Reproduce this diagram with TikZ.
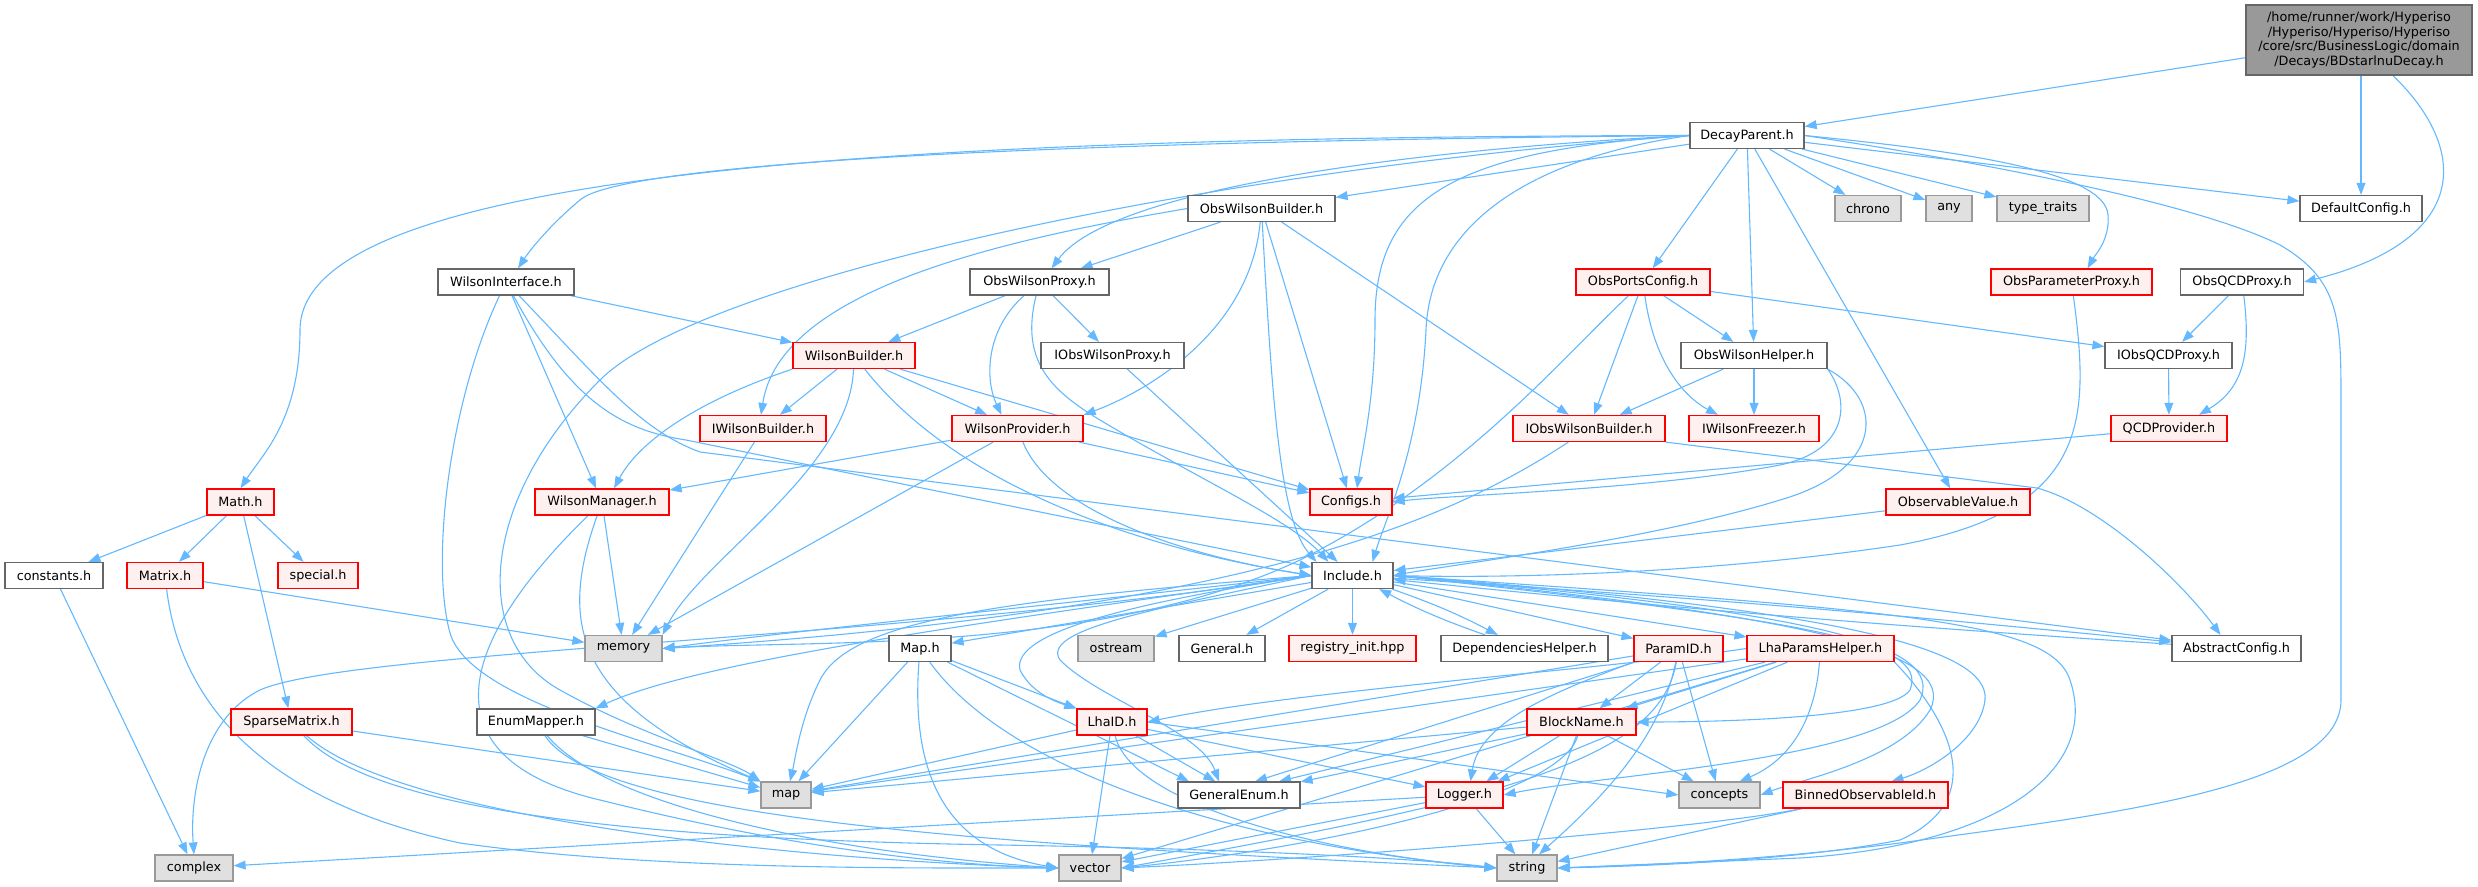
\documentclass[tikz,border=0pt]{standalone}
\usepackage{fontspec}
\setmainfont{DejaVu Sans}
\usetikzlibrary{arrows.meta,backgrounds}
\definecolor{edgec}{HTML}{63B8FF}
\definecolor{redfill}{HTML}{FFF0F0}
\definecolor{greyfill}{HTML}{E0E0E0}
\definecolor{greyline}{HTML}{999999}
\definecolor{darkline}{HTML}{666666}
\begin{document}
\begin{tikzpicture}[x=0.5pt,y=-0.5pt,
  base/.style={rectangle, inner sep=0pt, minimum height=13pt, line width=0.6pt, font=\fontsize{6.4}{7.4}\selectfont},
  wbox/.style={base, draw=darkline, fill=white},
  rbox/.style={base, draw=red, fill=redfill},
  gbox/.style={base, draw=greyline, fill=greyfill},
  mbox/.style={base, draw=darkline, fill=greyline, align=center, minimum height=35pt},
  e/.style={draw=edgec, line width=0.55pt, -{Triangle[length=6pt,width=4.4pt,fill=edgec]}}]
\useasboundingbox (0,0) rectangle (2478,887);
% ---------------- nodes ----------------
\node[mbox, minimum width=113pt] (main) at (2359,40) {/home/runner/work/Hyperiso\\/Hyperiso/Hyperiso/Hyperiso\\/core/src/BusinessLogic/domain\\/Decays/BDstarlnuDecay.h};
\node[wbox, minimum width=57pt] (DP) at (1747,135.5) {DecayParent.h};
% row 3
\node[wbox, minimum width=73.5pt] (OWB) at (1261.5,208.5) {ObsWilsonBuilder.h};
\node[gbox, minimum width=33pt] (chrono) at (1868,208.5) {chrono};
\node[gbox, minimum width=23pt] (any) at (1949,208.5) {any};
\node[gbox, minimum width=46pt] (tt) at (2043,208.5) {type\_traits};
\node[wbox, minimum width=61pt] (DC) at (2361,208.5) {DefaultConfig.h};
% row 4
\node[wbox, minimum width=68pt] (WI) at (506,282) {WilsonInterface.h};
\node[wbox, minimum width=69.5pt] (OWP) at (1039.5,282) {ObsWilsonProxy.h};
\node[rbox, minimum width=67pt] (OPC) at (1643,282) {ObsPortsConfig.h};
\node[rbox, minimum width=80.5pt] (OPP) at (2071.5,282) {ObsParameterProxy.h};
\node[wbox, minimum width=61.5pt] (OQP) at (2242,282) {ObsQCDProxy.h};
% row 5
\node[rbox, minimum width=61pt] (WB) at (854,355.5) {WilsonBuilder.h};
\node[wbox, minimum width=71.5pt] (IOWP) at (1112.5,355.5) {IObsWilsonProxy.h};
\node[wbox, minimum width=73pt] (OWH) at (1754,355.5) {ObsWilsonHelper.h};
\node[wbox, minimum width=63.5pt] (IOQP) at (2168.5,355.5) {IObsQCDProxy.h};
% row 6
\node[rbox, minimum width=63pt] (IWB) at (763,428.5) {IWilsonBuilder.h};
\node[rbox, minimum width=65.5pt] (WP) at (1017.5,428.5) {WilsonProvider.h};
\node[rbox, minimum width=76pt] (IOWB) at (1589,428.5) {IObsWilsonBuilder.h};
\node[rbox, minimum width=65pt] (IWF) at (1754,428.5) {IWilsonFreezer.h};
\node[rbox, minimum width=58pt] (QCD) at (2169,428.5) {QCDProvider.h};
% row 7
\node[rbox, minimum width=33.5pt] (Math) at (240.5,502) {Math.h};
\node[rbox, minimum width=67pt] (WM) at (602,502) {WilsonManager.h};
\node[rbox, minimum width=41pt] (Cfg) at (1351,502) {Configs.h};
\node[rbox, minimum width=72pt] (OV) at (1958,502) {ObservableValue.h};
% row 8
\node[wbox, minimum width=49pt] (consts) at (54,575.5) {constants.h};
\node[rbox, minimum width=38pt] (Matrix) at (165,575.5) {Matrix.h};
\node[rbox, minimum width=40pt] (special) at (318,575.5) {special.h};
\node[wbox, minimum width=40.5pt] (Inc) at (1352.5,575.5) {Include.h};
% row 9
\node[gbox, minimum width=38.5pt] (memory) at (623.5,648.5) {memory};
\node[wbox, minimum width=31pt] (MapH) at (920,648.5) {Map.h};
\node[gbox, minimum width=38pt] (ostream) at (1116,648.5) {ostream};
\node[wbox, minimum width=43pt] (General) at (1222,648.5) {General.h};
\node[rbox, minimum width=63.5pt] (reg) at (1352.5,648.5) {registry\_init.hpp};
\node[wbox, minimum width=83.5pt] (Dep) at (1524.5,648.5) {DependenciesHelper.h};
\node[rbox, minimum width=44.5pt] (PID) at (1678.5,648.5) {ParamID.h};
\node[rbox, minimum width=73.5pt] (LPH) at (1820.5,648.5) {LhaParamsHelper.h};
\node[wbox, minimum width=64.5pt] (AC) at (2236.5,648.5) {AbstractConfig.h};
% row 10
\node[rbox, minimum width=60.5pt] (Sparse) at (291.5,722) {SparseMatrix.h};
\node[wbox, minimum width=59pt] (Enum) at (536,722) {EnumMapper.h};
\node[rbox, minimum width=35pt] (LhaID) at (1112,722) {LhaID.h};
\node[rbox, minimum width=54.5pt] (BN) at (1581.5,722) {BlockName.h};
% row 11
\node[gbox, minimum width=25pt] (map) at (786,795) {map};
\node[wbox, minimum width=61pt] (GE) at (1239,795) {GeneralEnum.h};
\node[rbox, minimum width=38.5pt] (Logger) at (1464.5,795) {Logger.h};
\node[gbox, minimum width=40.5pt] (concepts) at (1719.5,795) {concepts};
\node[rbox, minimum width=82.5pt] (BOI) at (1865.5,795) {BinnedObservableId.h};
% row 12
\node[gbox, minimum width=39pt] (complex) at (194,868) {complex};
\node[gbox, minimum width=31pt] (vector) at (1090,868) {vector};
\node[gbox, minimum width=30pt] (string) at (1527,868) {string};
% ---------------- edges ----------------
\begin{pgfonlayer}{background}
% main
\draw[e] (main) -- (DP);
\draw[e] (main.south -| DC) -- (DC);
\draw[e] ([xshift=17pt]main.south) .. controls (2470,150) and (2470,240) .. (OQP.east);
% DecayParent
\draw[e] (DP.west) .. controls (900,137) and (300,170) .. (300,330) .. controls (300,420) and (262,455) .. (Math.north);
\draw[e] (DP.west) .. controls (1000,142) and (620,165) .. (580,200) .. controls (550,225) and (530,250) .. ([xshift=6pt]WI.north);
\draw[e] (DP.west) .. controls (1200,170) and (700,280) .. (600,380) .. controls (480,500) and (470,640) .. (560,690) .. controls (640,735) and (730,760) .. (map.north west);
\draw[e] (DP.west) .. controls (1400,150) and (1110,190) .. ([xshift=6pt]OWP.north);
\draw[e] (DP) -- (OWB);
\draw[e] (DP.west) .. controls (1450,150) and (1375,200) .. (1375,320) .. controls (1375,400) and (1362,450) .. ([xshift=3pt]Cfg.north);
\draw[e] (DP.west) .. controls (1520,160) and (1430,230) .. (1426,330) .. controls (1420,450) and (1385,520) .. ([xshift=10pt]Inc.north);
\draw[e] (DP) -- (OPC);
\draw[e] (DP) -- (OWH);
\draw[e] (DP) -- (OV);
\draw[e] (DP) -- (chrono);
\draw[e] (DP) -- (any);
\draw[e] (DP) -- (tt);
\draw[e] (DP.east) .. controls (1950,150) and (2105,170) .. (2108,215) .. controls (2110,240) and (2095,255) .. ([xshift=8pt]OPP.north);
\draw[e] (DP) -- (DC);
\draw[e] (DP.east) .. controls (2000,165) and (2200,205) .. (2280,245) .. controls (2340,280) and (2341,320) .. (2341,400) -- (2341,700) .. controls (2341,790) and (2100,815) .. (1900,843) .. controls (1750,862) and (1620,866) .. (string.east);
% ObsWilsonBuilder
\draw[e] (OWB) -- (OWP);
\draw[e] (OWB.west) .. controls (1000,240) and (780,290) .. ([xshift=-1pt]IWB.north);
\draw[e] (OWB) .. controls (1250,330) and (1150,390) .. (WP.north east);
\draw[e] (OWB) -- (Cfg);
\draw[e] (OWB) .. controls (1272,400) and (1280,520) .. ([xshift=-18pt]Inc.north);
\draw[e] (OWB) -- (IOWB);
% WilsonInterface
\draw[e] (WI) -- (WB);
\draw[e] (WI) -- (WM);
\draw[e] (WI) .. controls (450,400) and (430,560) .. (450,633) .. controls (470,700) and (650,740) .. (map.north west);
\draw[e] (WI) .. controls (570,400) and (620,430) .. (686,440) -- (Inc);
\draw[e] (WI) .. controls (600,380) and (640,430) .. (700,452) -- (AC);
% WilsonBuilder
\draw[e] (WB.south west) .. controls (700,400) and (640,440) .. ([xshift=6pt]WM.north);
\draw[e] (WB) -- (IWB);
\draw[e] (WB) .. controls (850,470) and (700,560) .. (memory.north east);
\draw[e] (WB) .. controls (960,490) and (1150,550) .. (Inc.west);
\draw[e] (WB) -- (WP);
\draw[e] (WB) -- (Cfg);
\draw[e] (IWB) -- (memory);
% WilsonProvider
\draw[e] (WP) -- (WM);
\draw[e] (WP) -- (memory);
\draw[e] (WP) .. controls (1050,510) and (1180,555) .. (Inc.west);
\draw[e] (WP) -- (Cfg);
% ObsWilsonProxy
\draw[e] (OWP) -- (WB);
\draw[e] (OWP) .. controls (985,330) and (985,380) .. ([xshift=-8pt]WP.north);
\draw[e] (OWP) .. controls (1020,360) and (1050,390) .. (1100,420) .. controls (1200,480) and (1290,520) .. ([xshift=-12pt]Inc.north);
\draw[e] (OWP) -- (IOWP);
\draw[e] (IOWP) -- (Inc);
% ObsPortsConfig
\draw[e] (OPC) .. controls (1560,360) and (1460,480) .. (1300,560) .. controls (1100,655) and (800,640) .. (memory.east);
\draw[e] (OPC) -- (IOWB);
\draw[e] (OPC) .. controls (1655,370) and (1690,400) .. ([xshift=-18pt]IWF.north);
\draw[e] (OPC) -- (OWH);
\draw[e] (OPC) -- (IOQP);
% ObsWilsonHelper
\draw[e] (OWH) -- (IOWB);
\draw[e] (OWH) -- (IWF);
\draw[e] (OWH.south east) .. controls (1850,400) and (1850,450) .. (1780,465) .. controls (1650,490) and (1450,495) .. (Cfg.east);
\draw[e] (OWH.south east) .. controls (1885,400) and (1885,470) .. (1780,500) .. controls (1650,540) and (1450,565) .. (Inc.east);
% QCD side
\draw[e] (OQP) -- (IOQP);
\draw[e] (OQP) .. controls (2252,360) and (2240,390) .. ([xshift=15pt]QCD.north);
\draw[e] (IOQP) -- (QCD);
\draw[e] (QCD) -- (Cfg);
% IObsWilsonBuilder
\draw[e] (IOWB) .. controls (1450,520) and (1250,610) .. (memory.east);
\draw[e] (IOWB.south east) -- (2037,488) .. controls (2100,505) and (2180,580) .. ([xshift=-8pt]AC.north);
\draw[e] (OV) -- (Inc);
\draw[e] (OPP) .. controls (2090,420) and (2090,510) .. (1900,545) .. controls (1700,575) and (1500,578) .. (Inc.east);
% Math
\draw[e] (Math) -- (consts);
\draw[e] (Math) -- (Matrix);
\draw[e] (Math) -- (special);
\draw[e] (Math) -- (Sparse);
\draw[e] (consts) -- (complex);
\draw[e] (Matrix) -- (memory);
\draw[e] (Matrix) .. controls (180,700) and (260,800) .. (460,843) .. controls (650,870) and (900,868) .. (vector.west);
\draw[e] (Sparse) -- (map);
\draw[e] (Sparse) .. controls (400,820) and (800,860) .. (vector.west);
\draw[e] (Sparse) .. controls (380,820) and (700,840) .. (1000,845) .. controls (1300,850) and (1450,862) .. (string.west);
\draw[e] (Enum) -- (map);
\draw[e] (Enum) .. controls (600,800) and (800,850) .. (vector.west);
\draw[e] (Enum) .. controls (600,820) and (1000,845) .. (string.west);
% WilsonManager
\draw[e] (WM) -- (memory);
\draw[e] (WM) .. controls (560,620) and (570,700) .. (map.north west);
\draw[e] (WM) .. controls (450,650) and (430,760) .. (600,800) .. controls (800,850) and (950,865) .. (vector.west);
% Include
\draw[e] (Inc.west) .. controls (1100,600) and (800,630) .. (memory.east);
\draw[e] (Inc.west) .. controls (900,640) and (350,650) .. (260,690) .. controls (200,720) and (190,800) .. (complex.north);
\draw[e] (Inc.west) .. controls (1000,600) and (850,620) .. (820,680) .. controls (800,720) and (795,760) .. ([xshift=2pt]map.north);
\draw[e] (Inc) -- (MapH);
\draw[e] (Inc.west) .. controls (1000,620) and (700,660) .. (Enum.north east);
\draw[e] (Inc.west) .. controls (1150,600) and (1010,630) .. (1020,670) .. controls (1030,690) and (1050,700) .. (LhaID.north west);
\draw[e] (Inc.west) .. controls (1150,610) and (1040,630) .. (1060,660) .. controls (1100,700) and (1200,730) .. ([xshift=-10pt]GE.north);
\draw[e] (Inc) -- (ostream);
\draw[e] (Inc) -- (General);
\draw[e] (Inc) -- (reg);
\draw[e] (Inc) to[bend left=4] (Dep);
\draw[e] (Dep) to[bend left=4] (Inc);
\draw[e] (Inc) -- (PID);
\draw[e] (Inc) -- (LPH);
\draw[e] (Inc) to[bend left=1] (AC);
\draw[e] (AC) to[bend left=1] (Inc);
\draw[e] (Inc.east) .. controls (1800,620) and (1930,640) .. (1910,690) .. controls (1890,720) and (1700,722) .. (BN.east);
\draw[e] (Inc.east) .. controls (1820,612) and (1945,645) .. (1920,700) .. controls (1880,760) and (1600,775) .. (Logger.east);
\draw[e] (Inc.east) .. controls (1800,615) and (1960,650) .. (1930,710) .. controls (1900,760) and (1800,780) .. (concepts.east);
\draw[e] (Inc.east) .. controls (1850,610) and (1990,650) .. (1985,700) .. controls (1980,740) and (1930,770) .. ([xshift=13pt]BOI.north);
\draw[e] (Inc.east) .. controls (1900,610) and (2050,620) .. (2070,680) .. controls (2100,770) and (2000,845) .. (1800,858) -- (string.east);
% Map.h
\draw[e] (MapH) -- (LhaID);
\draw[e] (MapH) -- (map);
\draw[e] (MapH) .. controls (910,780) and (950,850) .. (vector.west);
\draw[e] (MapH) -- ([xshift=-25pt]GE.north);
\draw[e] (MapH) .. controls (1000,760) and (1200,840) .. (string.west);
% LhaID
\draw[e] (LhaID) -- (map);
\draw[e] (LhaID) -- (vector);
\draw[e] (LhaID) .. controls (1130,800) and (1300,850) .. (string.west);
\draw[e] (LhaID) -- (GE);
\draw[e] (LhaID) -- (Logger);
\draw[e] (LhaID.east) -- (concepts.west);
% ParamID
\draw[e] (PID) -- (map);
\draw[e] (PID) -- ([xshift=8pt]GE.north);
\draw[e] (PID) -- (BN);
\draw[e] (PID) -- (concepts);
\draw[e] (PID) .. controls (1660,760) and (1500,800) .. (vector.east);
\draw[e] (PID) .. controls (1660,740) and (1600,800) .. ([xshift=6pt]string.north);
\draw[e] (PID.south west) .. controls (1560,690) and (1480,720) .. ([xshift=3pt]Logger.north);
% LhaParamsHelper
\draw[e] (LPH.west) .. controls (1600,670) and (1300,690) .. (LhaID.east);
\draw[e] (LPH) -- (map);
\draw[e] (LPH) -- ([xshift=20pt]GE.north);
\draw[e] (LPH) -- (BN);
\draw[e] (LPH) -- (Logger);
\draw[e] (LPH) .. controls (1815,720) and (1790,760) .. ([xshift=10pt]concepts.north);
\draw[e] (LPH) -- (vector);
\draw[e] (LPH.south east) .. controls (1950,720) and (1990,800) .. (1900,840) .. controls (1800,860) and (1650,866) .. (string.east);
% BlockName
\draw[e] (BN) -- (map);
\draw[e] (BN) -- (GE);
\draw[e] (BN) -- (Logger);
\draw[e] (BN) -- (concepts);
\draw[e] (BN) -- (string);
\draw[e] (BN) .. controls (1560,800) and (1300,850) .. (vector.east);
% Logger, Binned
\draw[e] (Logger) -- (complex);
\draw[e] (Logger) -- (vector);
\draw[e] (Logger) -- (string);
\draw[e] (BOI) .. controls (1700,830) and (1300,860) .. (vector.east);
\draw[e] (BOI) -- (string);
\end{pgfonlayer}
\end{tikzpicture}
\end{document}
